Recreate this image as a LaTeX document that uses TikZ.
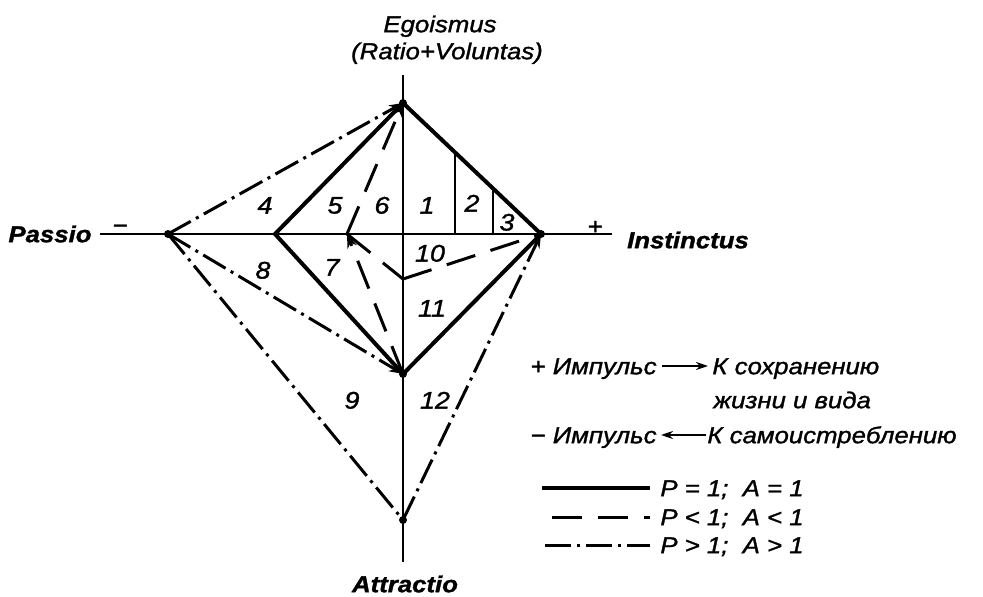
\documentclass[tikz,border=0pt]{standalone}
\usepackage{fontspec}
\setmainfont{Liberation Sans}
\newfontfamily\lf[FakeStretch=1.12, FakeBold=1.3]{Liberation Sans}
\usetikzlibrary{arrows.meta}
\begin{document}
\begin{tikzpicture}[x=0.5pt,y=-0.5pt,
  txt/.style={inner sep=0pt, text height=8.2pt, text depth=0pt, font=\lf\itshape\fontsize{11.5}{13}\selectfont},
  btxt/.style={inner sep=0pt, text height=8.2pt, text depth=0pt, font=\lf\bfseries\itshape\fontsize{11.5}{13}\selectfont},
  num/.style={inner sep=0pt, text height=8.6pt, text depth=0pt, font=\lf\itshape\fontsize{12}{13}\selectfont},
  axisline/.style={line width=0.8pt},
  boldline/.style={line width=2pt, line join=miter},
  innerline/.style={line width=1.3pt},
  dd/.style={line width=1.5pt, dash pattern=on 13pt off 3pt on 1.5pt off 3pt},
  ds/.style={line width=1.5pt, dash pattern=on 15pt off 8pt},
  tip/.style={-{Stealth[length=7pt,width=5pt]}},
  ptdot/.style={circle, fill, inner sep=0pt, minimum size=4pt}
]
\useasboundingbox (0,0) rectangle (983,597);

% key points
\coordinate (E) at (403,103);
\coordinate (I) at (541,234);
\coordinate (L) at (275,234);
\coordinate (B) at (403,374);
\coordinate (P) at (168,234);
\coordinate (A) at (403,520);
\coordinate (Q) at (347,234);
\coordinate (R) at (403,279);
\coordinate (HL) at (100,234);
\coordinate (HR) at (612,234);
\coordinate (VT) at (403,75);
\coordinate (VB) at (403,562);
\coordinate (V1t) at (455,153);
\coordinate (V1b) at (455,234);
\coordinate (V2t) at (493,189);
\coordinate (V2b) at (493,234);

% axes
\draw[axisline] (HL) -- (HR);
\draw[axisline] (VT) -- (VB);

% solid diamond
\draw[boldline] (L) -- (E) -- (I) -- (B) -- cycle;
\draw[innerline] (V1t) -- (V1b);
\draw[innerline] (V2t) -- (V2b);

% dashed
\draw[ds,tip] (B) -- (Q);
\draw[ds,tip] (Q) -- (E);
\draw[ds] (Q) -- (R);
\draw[ds] (R) -- (I);

% dash-dot
\draw[dd,tip] (P) -- (E);
\draw[dd,tip] (P) -- (B);
\draw[dd] (P) -- (A);
\draw[dd,tip] (A) -- (I);

% points
\node[ptdot] (pP) at (P) {};
\node[ptdot] (pA) at (A) {};
\node[ptdot] (pE) at (E) {};
\node[ptdot] (pI) at (I) {};
\node[ptdot] (pB) at (B) {};

% axis labels
\node[btxt] (passio) at (50,234) {Passio};
\node[txt] (minus) at (120,225) {−};
\node[txt] (plus) at (595,226) {+};
\node[btxt] (inst) at (688,240) {Instinctus};
\node[btxt] (attr) at (405,584) {Attractio};
\node[txt] (ego) at (440,24) {Egoismus};
\node[txt] (rv) at (447,51) {(Ratio+Voluntas)};

% region numbers
\node[num] (n4) at (265,205) {4};
\node[num] (n5) at (335,205) {5};
\node[num] (n6) at (382,205) {6};
\node[num] (n1) at (427,205) {1};
\node[num] (n2) at (472,203) {2};
\node[num] (n3) at (507,222) {3};
\node[num] (n10) at (430,253) {10};
\node[num] (n7) at (332,267) {7};
\node[num] (n8) at (263,270) {8};
\node[num] (n11) at (432,308) {11};
\node[num] (n9) at (352,400) {9};
\node[num] (n12) at (435,400) {12};

% legend: impulses
\node[txt] (lplus) at (538,366) {+};
\node[txt,anchor=east] (imp1) at (657,366) {Импульс};
\coordinate (a1s) at (662,366);
\coordinate (a1e) at (708,366);
\draw[line width=1pt,-{Stealth[length=6pt,width=4pt]}] (a1s) -- (a1e);
\node[txt,anchor=west] (ks) at (712,366) {К сохранению};
\node[txt,anchor=west] (zh) at (713,400) {жизни и вида};
\node[txt] (lminus) at (538,435) {−};
\node[txt,anchor=east] (imp2) at (657,435) {Импульс};
\coordinate (a2s) at (706,435);
\coordinate (a2e) at (661,435);
\draw[line width=1pt,-{Stealth[length=6pt,width=4pt]}] (a2s) -- (a2e);
\node[txt,anchor=west] (kst) at (707,435) {К самоистреблению};

% legend: line styles
\coordinate (l1a) at (542,488);
\coordinate (l1b) at (650,488);
\coordinate (l2a) at (552,517);
\coordinate (l2b) at (650,517);
\coordinate (l3a) at (545,545);
\coordinate (l3b) at (650,545);
\draw[boldline] (l1a) -- (l1b);
\draw[ds] (l2a) -- (l2b);
\draw[dd] (l3a) -- (l3b);
\node[txt,anchor=west] (t1) at (660,488) {P = 1;\ \ A = 1};
\node[txt,anchor=west] (t2) at (660,517) {P < 1;\ \ A < 1};
\node[txt,anchor=west] (t3) at (660,545) {P > 1;\ \ A > 1};
\end{tikzpicture}
\end{document}
